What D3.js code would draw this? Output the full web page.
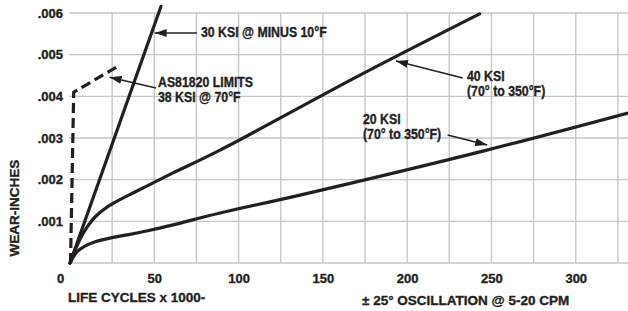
<!DOCTYPE html>
<html>
<head>
<meta charset="utf-8">
<script src="https://cdn.jsdelivr.net/npm/d3@7/dist/d3.min.js"></script>
<style>
  body { margin: 0; background: #fff; }
  text { font-family: "Liberation Sans", Arial, sans-serif; font-weight: bold; fill: #231f20;
         stroke: #231f20; stroke-width: 0.35px; }
  .note { font-size: 14px; }
  .tick-label { font-size: 13px; }
  .axis-title { font-size: 13.5px; }
</style>
</head>
<body>
<svg id="chart"></svg>
<script>
// values (x = life cycles x 1000, y = wear in inches)
const xTicks = [0, 50, 100, 150, 200, 250, 300];
const xGrid = [25, 50, 75, 100, 125, 150, 175, 200, 225, 250, 275, 300, 325];
const yTicks = [0.001, 0.002, 0.003, 0.004, 0.005, 0.006];

const ksi30Minus10 = [[0, 0], [54, 0.00616]];
const ksi40 = [[0, 0], [5.2, 0.00051], [10.1, 0.00086], [15, 0.00111], [23, 0.00137],
  [34.8, 0.00163], [46.7, 0.00187], [60.5, 0.00215], [89, 0.00271], [172, 0.00451], [243, 0.00598]];
const ksi20 = [[0, 0], [4.2, 0.00027], [9.1, 0.00041], [15, 0.00051], [24.9, 0.00061],
  [34.8, 0.00068], [46.7, 0.00078], [60.5, 0.00091], [89, 0.0012], [136.4, 0.00163],
  [247.3, 0.00271], [331, 0.0036]];
const as81820Limits = [[0.3, 0], [2.2, 0.0041], [28, 0.00471]];

// annotations: text anchor, arrow start and arrow tip in data units
const notes = [
  { lines: ['30 KSI @ MINUS 10°F'], at: [77.7, 0.00542], from: [75.3, 0.00552], to: [50.2, 0.00552] },
  { lines: ['AS81820 LIMITS', '38 KSI @ 70°F'], at: [52.2, 0.00422], from: [51, 0.0042], to: [23.5, 0.00446] },
  { lines: ['40 KSI', '(70° to 350°F)'], at: [235.5, 0.00437], from: [233, 0.00444], to: [193.4, 0.00485] },
  { lines: ['20 KSI', '(70° to 350°F)'], at: [173.8, 0.00334], from: [224, 0.00307], to: [247.5, 0.00283] },
];

const viewBox = { width: 628, height: 311 };
const margin = { top: 13, right: 0, bottom: 48, left: 70 };
const innerBottom = viewBox.height - margin.bottom;
const noteSquash = 0.88; // the reference uses a condensed face

const svg = d3.select('#chart')
  .attr('width', viewBox.width)
  .attr('height', viewBox.height);

const xScale = d3.scaleLinear().domain([0, 331]).range([margin.left, viewBox.width - margin.right]);
const yScale = d3.scaleLinear().domain([0, 0.006]).range([innerBottom, margin.top]);

svg.append('defs').append('marker')
  .attr('id', 'arrow')
  .attr('viewBox', '0 0 12 8')
  .attr('refX', 12)
  .attr('refY', 4)
  .attr('markerWidth', 12)
  .attr('markerHeight', 8)
  .attr('markerUnits', 'userSpaceOnUse')
  .attr('orient', 'auto')
  .append('path')
  .attr('d', 'M0,0 L12,4 L0,8 Z')
  .attr('fill', '#231f20');

// grid
const grid = svg.append('g').attr('stroke', '#c6c6c8').attr('stroke-width', 1.4);
grid.selectAll('.hgrid')
  .data([0, ...yTicks])
  .enter()
  .append('line')
  .attr('x1', xScale(0) - 1)
  .attr('x2', viewBox.width)
  .attr('y1', d => yScale(d))
  .attr('y2', d => yScale(d));
grid.selectAll('.vgrid')
  .data(xGrid)
  .enter()
  .append('line')
  .attr('x1', d => xScale(d))
  .attr('x2', d => xScale(d))
  .attr('y1', yScale(0.006))
  .attr('y2', yScale(0));

// axes (labels only, no domain or tick lines)
const xAxis = d3.axisBottom(xScale).tickValues(xTicks).tickSize(0).tickPadding(11);
const yAxis = d3.axisLeft(yScale).tickValues(yTicks).tickSize(0).tickPadding(7)
  .tickFormat(d => d3.format('.3f')(d).replace(/^0/, ''));

const gx = svg.append('g').attr('transform', `translate(0, ${innerBottom})`).call(xAxis);
const gy = svg.append('g').attr('transform', `translate(${margin.left}, 0)`).call(yAxis);
[gx, gy].forEach(g => {
  g.select('.domain').remove();
  g.selectAll('text').attr('class', 'tick-label').attr('fill', '#231f20');
});
gx.selectAll('.tick text').filter(d => d === 0).attr('dx', -10);

// series
const line = d3.line()
  .x(d => xScale(d[0]))
  .y(d => yScale(d[1]))
  .curve(d3.curveCatmullRom.alpha(0.5));

svg.append('g')
  .selectAll('path')
  .data([ksi20, ksi40, ksi30Minus10])
  .enter()
  .append('path')
  .attr('d', line)
  .attr('fill', 'none')
  .attr('stroke', '#231f20')
  .attr('stroke-width', 3.2)
  .attr('stroke-linecap', 'round');

svg.append('path')
  .datum(as81820Limits)
  .attr('d', d3.line().x(d => xScale(d[0])).y(d => yScale(d[1])))
  .attr('fill', 'none')
  .attr('stroke', '#231f20')
  .attr('stroke-width', 3.2)
  .attr('stroke-dasharray', '10,5');

// annotations
const noteGroups = svg.append('g')
  .selectAll('g')
  .data(notes)
  .enter()
  .append('g');

noteGroups.append('line')
  .attr('x1', d => xScale(d.from[0]))
  .attr('y1', d => yScale(d.from[1]))
  .attr('x2', d => xScale(d.to[0]))
  .attr('y2', d => yScale(d.to[1]))
  .attr('stroke', '#231f20')
  .attr('stroke-width', 1.6)
  .attr('marker-end', 'url(#arrow)');

noteGroups.each(function (d) {
  d3.select(this).selectAll('text.note')
    .data(d.lines)
    .enter()
    .append('text')
    .attr('class', 'note')
    .attr('transform', (text, i) =>
      `translate(${xScale(d.at[0])}, ${yScale(d.at[1]) + i * 15}) scale(${noteSquash}, 1)`)
    .text(text => text);
});

// axis titles
svg.append('text')
  .attr('class', 'axis-title')
  .attr('transform', `translate(19, ${(margin.top + innerBottom) / 2 + 70}) rotate(-90)`)
  .attr('text-anchor', 'middle')
  .text('WEAR-INCHES');

svg.append('text')
  .attr('class', 'axis-title')
  .attr('x', 68)
  .attr('y', 302)
  .text('LIFE CYCLES x 1000-');

svg.append('text')
  .attr('class', 'axis-title')
  .attr('x', 362)
  .attr('y', 305)
  .text('± 25° OSCILLATION @ 5-20 CPM');
</script>
</body>
</html>
